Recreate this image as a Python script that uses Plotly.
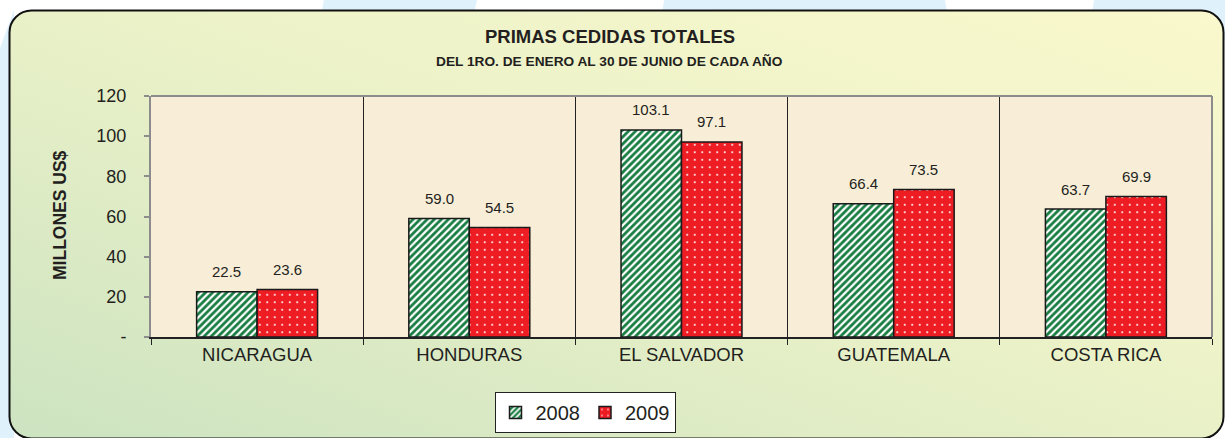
import base64
import plotly.graph_objects as go

# ---------------- data ----------------
categories = ["NICARAGUA", "HONDURAS", "EL SALVADOR", "GUATEMALA", "COSTA RICA"]
series_names = ["2008", "2009"]
values_2008 = [22.5, 59.0, 103.1, 66.4, 63.7]
values_2009 = [23.6, 54.5, 97.1, 73.5, 69.9]
y_tickvals = [0, 20, 40, 60, 80, 100, 120]
y_ticktext = ["-", "20", "40", "60", "80", "100", "120"]
title_text = "PRIMAS CEDIDAS TOTALES"
subtitle_text = "DEL 1RO. DE ENERO AL 30 DE JUNIO DE CADA AÑO"
y_title = "MILLONES US$"

# ---------------- geometry ----------------
W, H = 1225, 438
L, R, T, B = 151, 13, 96, 101
PW, PH = W - L - R, H - T - B
BARGAP = 0.43
FONT = "Liberation Sans, Arial, sans-serif"
TXT = "#231f20"

def px_x(x):
    return (x - L) / PW

def px_y(y):
    return (H - B - y) / PH

# background (outer frame with gradient rounded rectangle)
svg = f'''<svg xmlns="http://www.w3.org/2000/svg" width="{W}" height="{H}" viewBox="0 0 {W} {H}">
<defs><linearGradient id="g" x1="0" y1="1" x2="1" y2="0">
<stop offset="0" stop-color="#cce3c1"/><stop offset="0.55" stop-color="#ecf2c8"/><stop offset="1" stop-color="#faf8cd"/></linearGradient></defs>
<rect width="{W}" height="{H}" fill="#ffffff"/>
<polygon points="0,48 14,10 14,438 0,438" fill="#dff1fa"/>
<polygon points="324,0 477,0 470,30 318,30" fill="#dff1fa"/>
<polygon points="664,0 945,0 950,30 660,30" fill="#dff1fa"/>
<polygon points="1094,0 1225,0 1225,40 1088,40" fill="#dff1fa"/>
<rect x="9.5" y="10.5" width="1214" height="428" rx="22" ry="22" fill="url(#g)" stroke="#111111" stroke-width="2"/>
</svg>'''
svg_uri = "data:image/svg+xml;base64," + base64.b64encode(svg.encode("utf-8")).decode("ascii")

fig = go.Figure()
fig.add_trace(go.Bar(
    x=categories, y=values_2008, name=series_names[0],
    marker=dict(color="#177d42", line=dict(color="#1a1a1a", width=1.5),
                pattern=dict(shape="/", fgcolor="#ffffff", bgcolor="#177d42",
                             size=5, solidity=0.45, fillmode="replace")),
    hoverinfo="skip",
))
fig.add_trace(go.Bar(
    x=categories, y=values_2009, name=series_names[1],
    marker=dict(color="#ee1d24", line=dict(color="#1a1a1a", width=1.5),
                pattern=dict(shape=".", fgcolor="#ffffff", bgcolor="#ee1d24",
                             size=7.5, solidity=0.06, fillmode="replace")),
    hoverinfo="skip",
))

bar_w = PW / len(categories) * (1 - BARGAP) / 2
annotations = []
for cat, v in zip(categories, values_2008):
    annotations.append(dict(x=cat, y=v, xref="x", yref="y", text=f"{v:.1f}",
                            showarrow=False, xshift=-bar_w / 2, yshift=20,
                            xanchor="center", yanchor="middle",
                            font=dict(size=15, color=TXT, family=FONT)))
for cat, v in zip(categories, values_2009):
    annotations.append(dict(x=cat, y=v, xref="x", yref="y", text=f"{v:.1f}",
                            showarrow=False, xshift=bar_w / 2, yshift=20,
                            xanchor="center", yanchor="middle",
                            font=dict(size=15, color=TXT, family=FONT)))
annotations.append(dict(x=px_x(610), y=px_y(37), xref="paper", yref="paper",
                        text=f"<b>{title_text}</b>", showarrow=False,
                        xanchor="center", yanchor="middle",
                        font=dict(size=18.5, color=TXT, family=FONT)))
annotations.append(dict(x=px_x(609), y=px_y(61), xref="paper", yref="paper",
                        text=f"<b>{subtitle_text}</b>", showarrow=False,
                        xanchor="center", yanchor="middle",
                        font=dict(size=13.7, color=TXT, family=FONT)))
annotations.append(dict(x=px_x(60), y=px_y(215), xref="paper", yref="paper",
                        text=f"<b>{y_title}</b>", showarrow=False, textangle=-90,
                        xanchor="center", yanchor="middle",
                        font=dict(size=17.5, color=TXT, family=FONT)))

shapes = [
    dict(type="rect", xref="paper", yref="paper", x0=0, x1=1, y0=0, y1=1,
         fillcolor="#f8eed8", line=dict(width=0), layer="below"),
    dict(type="line", xref="paper", yref="paper", x0=0, x1=1, y0=1, y1=1,
         line=dict(color="#8c8c8c", width=2), layer="above"),
    dict(type="line", xref="paper", yref="paper", x0=1, x1=1, y0=0, y1=1,
         line=dict(color="#8c8c8c", width=2), layer="above"),
]

fig.update_layout(
    width=W, height=H,
    margin=dict(l=L, r=R, t=T, b=B, pad=0),
    paper_bgcolor="#ffffff", plot_bgcolor="rgba(0,0,0,0)",
    barmode="group", bargap=BARGAP, bargroupgap=0,
    font=dict(family=FONT, color=TXT),
    images=[dict(source=svg_uri, xref="paper", yref="paper",
                 x=-L / PW, y=1 + T / PH, sizex=W / PW, sizey=H / PH,
                 xanchor="left", yanchor="top", sizing="stretch", layer="below")],
    shapes=shapes,
    annotations=annotations,
    showlegend=True,
    legend=dict(orientation="h", xref="container", yref="container",
                x=585 / W, xanchor="center",
                y=1 - 392 / H, yanchor="top", bgcolor="#ffffff",
                bordercolor="#222222", borderwidth=1,
                font=dict(size=20, color=TXT, family=FONT),
                itemclick=False, itemdoubleclick=False),
    xaxis=dict(showline=True, linecolor="#222222", linewidth=1.5,
               ticks="outside", ticklen=6, tickcolor="#222222", tickwidth=1,
               tickson="boundaries", showgrid=True, gridcolor="#222222", gridwidth=1,
               automargin=False,
               tickfont=dict(size=18.5, color=TXT, family=FONT), fixedrange=True),
    yaxis=dict(range=[0, 120], tickvals=y_tickvals, ticktext=y_ticktext,
               showline=True, linecolor="#8c8c8c", linewidth=2,
               ticks="outside", ticklen=5, tickcolor="#8c8c8c", tickwidth=1.5,
               showgrid=False, zeroline=False, ticklabelstandoff=14,
               automargin=False,
               tickfont=dict(size=18, color=TXT, family=FONT), fixedrange=True),
)

fig.write_html("out.html", config={"displayModeBar": False},
               post_script="document.body.style.margin='0px';")
